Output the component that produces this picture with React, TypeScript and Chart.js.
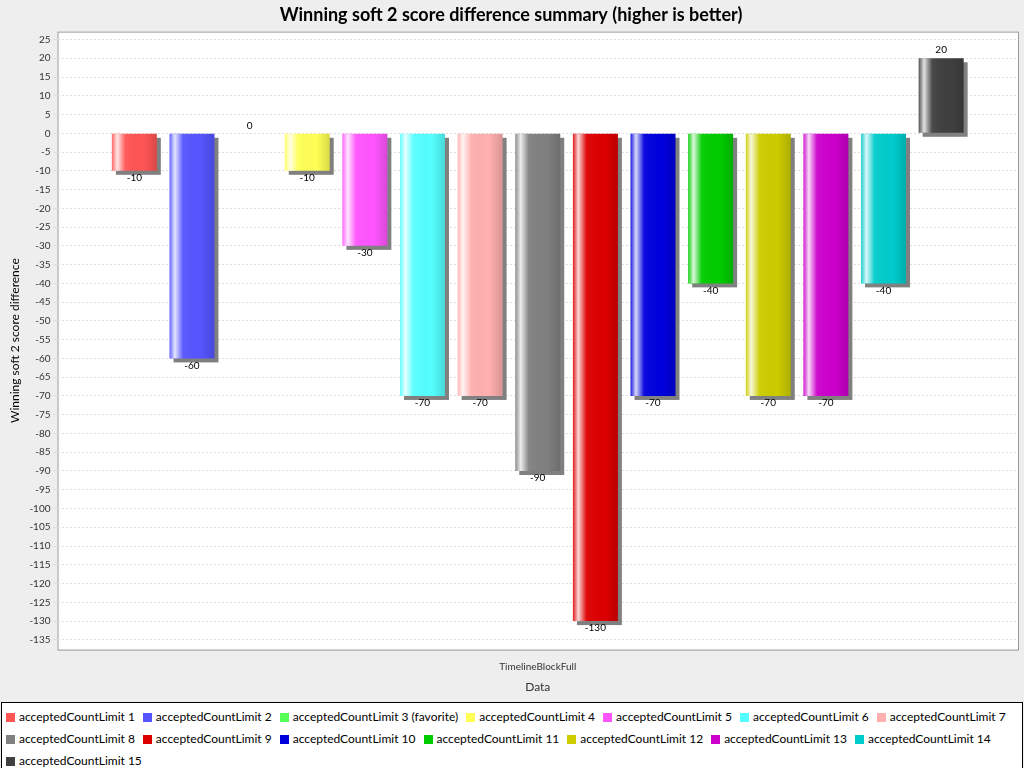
import { useEffect, useRef } from 'react'
import { Chart, registerables, type Plugin } from 'chart.js'

Chart.register(...registerables)

const categories = ['TimelineBlockFull']
const seriesNames = [
  'acceptedCountLimit 1', 'acceptedCountLimit 2', 'acceptedCountLimit 3 (favorite)', 'acceptedCountLimit 4',
  'acceptedCountLimit 5', 'acceptedCountLimit 6', 'acceptedCountLimit 7', 'acceptedCountLimit 8',
  'acceptedCountLimit 9', 'acceptedCountLimit 10', 'acceptedCountLimit 11', 'acceptedCountLimit 12',
  'acceptedCountLimit 13', 'acceptedCountLimit 14', 'acceptedCountLimit 15',
]
const seriesValues = [-10, -60, 0, -10, -30, -70, -70, -90, -130, -70, -40, -70, -70, -40, 20]
const seriesColors = [
  '#ff5555', '#5555ff', '#55ff55', '#ffff55', '#ff55ff', '#55ffff', '#ffafaf', '#808080',
  '#dd0000', '#0000dd', '#00cc00', '#cccc00', '#cc00cc', '#00cccc', '#404040',
]

const font = 'Lato, "DejaVu Sans", sans-serif'

const barDecor: Plugin<'bar'> = {
  id: 'barDecor',
  beforeDatasetsDraw(chart) {
    const ctx = chart.ctx
    ctx.save()
    ctx.fillStyle = '#808080'
    chart.data.datasets.forEach((_, i) => {
      chart.getDatasetMeta(i).data.forEach((el: any) => {
        const top = Math.min(el.y, el.base)
        const h = Math.abs(el.base - el.y)
        if (h < 1) return
        ctx.fillRect(el.x - el.width / 2 + 4, top + 4, el.width, h)
      })
    })
    ctx.restore()
  },
  afterDatasetsDraw(chart) {
    const ctx = chart.ctx
    ctx.save()
    chart.data.datasets.forEach((ds, i) => {
      chart.getDatasetMeta(i).data.forEach((el: any, j) => {
        const left = el.x - el.width / 2
        const top = Math.min(el.y, el.base)
        const h = Math.abs(el.base - el.y)
        if (h >= 1) {
          const g = ctx.createLinearGradient(left, 0, left + el.width, 0)
          g.addColorStop(0, 'rgba(255,255,255,0.1)')
          g.addColorStop(0.12, 'rgba(255,255,255,0.85)')
          g.addColorStop(0.3, 'rgba(255,255,255,0.05)')
          g.addColorStop(0.7, 'rgba(0,0,0,0)')
          g.addColorStop(1, 'rgba(0,0,0,0.15)')
          ctx.fillStyle = g
          ctx.fillRect(left, top, el.width, h)
        }
        const v = ds.data[j] as number
        ctx.fillStyle = '#000'
        ctx.font = `10px ${font}`
        ctx.textAlign = 'center'
        if (v < 0) {
          ctx.textBaseline = 'top'
          ctx.fillText(String(v), el.x, el.y + 2)
        } else {
          ctx.textBaseline = 'bottom'
          ctx.fillText(String(v), el.x, el.y - 3)
        }
      })
    })
    ctx.restore()
  },
}

const plotBg: Plugin<'bar'> = {
  id: 'plotBg',
  beforeDraw(chart) {
    const { ctx, chartArea: a } = chart
    ctx.save()
    ctx.fillStyle = '#eeeeee'
    ctx.fillRect(0, 0, chart.width, chart.height)
    ctx.fillStyle = '#ffffff'
    ctx.fillRect(a.left, a.top, a.right - a.left, a.bottom - a.top)
    ctx.strokeStyle = '#999'
    ctx.strokeRect(a.left + 0.5, a.top + 0.5, a.right - a.left, a.bottom - a.top)
    ctx.restore()
  },
}

export default function App() {
  const ref = useRef<HTMLCanvasElement | null>(null)
  const chartRef = useRef<Chart<'bar'> | null>(null)

  useEffect(() => {
    document.body.style.margin = '0'
    document.body.style.background = '#eeeeee'
    const canvas = ref.current
    if (!canvas) return
    chartRef.current?.destroy()
    chartRef.current = new Chart(canvas, {
      type: 'bar',
      data: {
        labels: categories,
        datasets: seriesNames.map((name, i) => ({
          label: name,
          data: [seriesValues[i]],
          backgroundColor: seriesColors[i],
          categoryPercentage: 0.9,
          barPercentage: 0.78,
        })),
      },
      options: {
        animation: false,
        responsive: false,
        layout: { padding: { top: 0, right: 6, bottom: 2, left: 4 } },
        plugins: {
          legend: { display: false },
          tooltip: { enabled: false },
          title: {
            display: true,
            text: 'Winning soft 2 score difference summary (higher is better)',
            color: '#000',
            font: { family: font, size: 18, weight: 'bold' },
            padding: { top: 4, bottom: 6 },
          },
        },
        scales: {
          x: {
            grid: { display: false },
            border: { display: false },
            ticks: { color: '#333', font: { family: font, size: 10 } },
            title: { display: true, text: 'Data', color: '#333', font: { family: font, size: 12 }, padding: { top: 4 } },
          },
          y: {
            min: -137.6,
            max: 27.1,
            afterBuildTicks: (axis) => {
              const t = []
              for (let v = 25; v >= -135; v -= 5) t.push({ value: v })
              axis.ticks = t
            },
            grid: { color: '#dddddd', tickLength: 4, drawTicks: true },
            border: { display: false, dash: [2, 2] },
            ticks: { color: '#333', font: { family: font, size: 10 }, autoSkip: false },
            title: {
              display: true,
              text: 'Winning soft 2 score difference',
              color: '#000',
              font: { family: font, size: 12 },
            },
          },
        },
      },
      plugins: [plotBg, barDecor],
    })
    return () => {
      chartRef.current?.destroy()
      chartRef.current = null
    }
  }, [])

  return (
    <div style={{ width: 1024, height: 768, background: '#eeeeee', fontFamily: font }}>
      <canvas ref={ref} width={1024} height={700} style={{ display: 'block' }} />
      <div
        style={{
          margin: '2px 1px 0 1px',
          border: '1px solid #000',
          background: '#fff',
          display: 'flex',
          flexWrap: 'wrap',
          padding: '3px 4px',
          fontSize: 12,
          lineHeight: '22px',
        }}
      >
        {seriesNames.map((name, i) => (
          <span key={name} style={{ display: 'inline-flex', alignItems: 'center', marginRight: 8 }}>
            <span style={{ width: 9, height: 9, background: seriesColors[i], display: 'inline-block', marginRight: 4 }} />
            {name}
          </span>
        ))}
      </div>
    </div>
  )
}
